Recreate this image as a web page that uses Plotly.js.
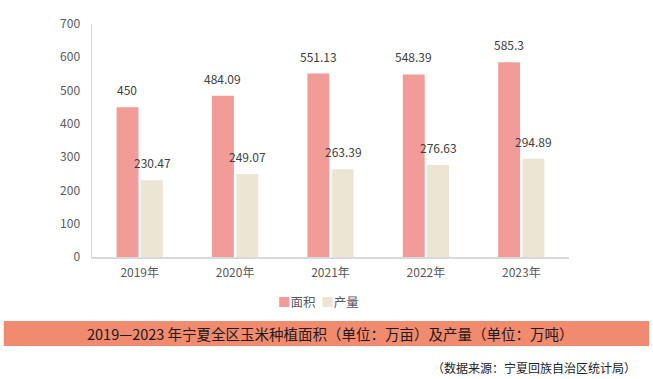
<!DOCTYPE html>
<html><head><meta charset="utf-8">
<script src="https://cdn.plot.ly/plotly-3.0.1.min.js"></script>
<style>body{margin:0;background:#fff}#c{width:653px;height:379px}</style>
</head><body><div id="c"></div>
<script>
const categories = ["2019年","2020年","2021年","2022年","2023年"];
const areaValues = [450, 484.09, 551.13, 548.39, 585.3];
const outputValues = [230.47, 249.07, 263.39, 276.63, 294.89];
const seriesNames = ["面积","产量"];
const yTicks = [0,100,200,300,400,500,600,700];
const titleText = "2019—2023 年宁夏全区玉米种植面积（单位：万亩）及产量（单位：万吨）";
const sourceText = "（数据来源：宁夏回族自治区统计局）";

const font = "'Noto Sans CJK SC', 'Noto Sans', sans-serif";
const colors = ["#F29C99", "#EDE5D4"];

const traces = [
  {type:"bar", name:seriesNames[0], x:categories, y:areaValues, marker:{color:colors[0]}},
  {type:"bar", name:seriesNames[1], x:categories, y:outputValues, marker:{color:colors[1]}}
];

const annotations = [];
function addLabels(vals, shiftX){
  vals.forEach((v,i)=>{
    annotations.push({x:categories[i], y:v, xref:"x", yref:"y", text:String(v), showarrow:false,
      yanchor:"bottom", yshift:7, xshift:shiftX, font:{family:font, size:12, color:"#404040"}});
  });
}
addLabels(areaValues, -12.5);
addLabels(outputValues, 12.5);
// legend drawn as text
annotations.push({xref:"paper", yref:"paper", x:0.475, y:-0.193, showarrow:false, xanchor:"center", yanchor:"middle",
  text:`<span style="color:${colors[0]}">■</span>${seriesNames[0]}  <span style="color:${colors[1]}">■</span>${seriesNames[1]}`,
  font:{family:font, size:12.5, color:"#595959"}});
annotations.push({xref:"paper", yref:"paper", x:0.5, y:-0.328, text:titleText, showarrow:false,
  xanchor:"center", yanchor:"middle", font:{family:font, size:14.5, color:"#231815"}});
annotations.push({xref:"paper", yref:"paper", x:1.145, y:-0.473, text:sourceText, showarrow:false,
  xanchor:"right", yanchor:"middle", font:{family:font, size:12, color:"#222"}});

const layout = {
  width:653, height:379,
  margin:{l:92, r:84, t:24, b:122},
  paper_bgcolor:"#fff", plot_bgcolor:"#fff",
  font:{family:font, color:"#595959", size:12},
  barmode:"group", bargap:0.49, bargroupgap:0.1,
  showlegend:false,
  xaxis:{showline:true, linecolor:"#D9D9D9", linewidth:1.5, ticks:"", showgrid:false, ticklabelstandoff:4, tickfont:{size:12, color:"#595959"}},
  yaxis:{range:[0,700], tickvals:yTicks, showline:true, linecolor:"#D9D9D9", linewidth:1.5, showgrid:false, zeroline:false, ticks:"", ticklabelstandoff:8, tickfont:{size:12, color:"#595959"}},
  shapes:[{type:"rect", xref:"paper", yref:"paper", x0:-0.185, x1:1.168, y0:-0.275, y1:-0.382, fillcolor:"#F18B70", line:{width:0}, layer:"below"}],
  annotations:annotations
};
Plotly.newPlot("c", traces, layout, {staticPlot:true, displayModeBar:false});
</script></body></html>
